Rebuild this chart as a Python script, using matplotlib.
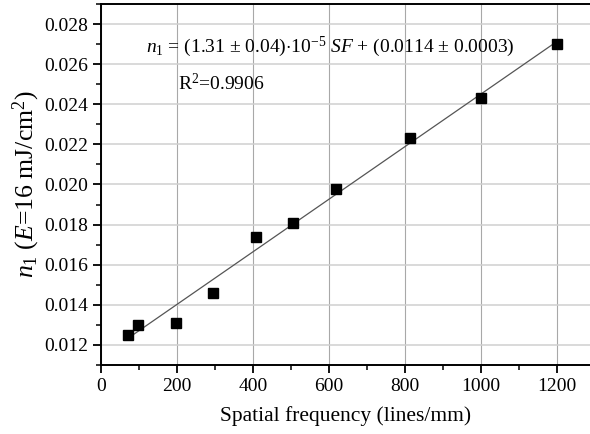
import numpy as np
import matplotlib.pyplot as plt
from matplotlib.ticker import MultipleLocator

plt.rcParams['font.family'] = 'Liberation Serif'
plt.rcParams['mathtext.fontset'] = 'custom'
plt.rcParams['mathtext.rm'] = 'Liberation Serif'
plt.rcParams['mathtext.it'] = 'Liberation Serif:italic'

# measured points
spatial_freq = [70, 97, 197, 295, 408, 505, 620, 813, 1000, 1200]
n1 = [0.0125, 0.0130, 0.0131, 0.0146, 0.0174, 0.0181, 0.0198, 0.0223, 0.0243, 0.0270]

# linear fit parameters
slope = 1.31e-5
intercept = 0.0114
fit_x = [75, 1200]

fig = plt.figure(figsize=(5.9, 4.34), dpi=100)
ax = fig.add_axes([0.1712, 0.159, 0.8288, 0.8318])

fx = np.array(fit_x)
ax.plot(fx, slope * fx + intercept, color='#555555', lw=0.9, zorder=2)
ax.plot(spatial_freq, n1, 's', color='black', ms=7, zorder=3)

ax.set_xlim(0, 1288)
ax.set_ylim(0.011, 0.029)
ax.xaxis.set_major_locator(MultipleLocator(200))
ax.xaxis.set_minor_locator(MultipleLocator(100))
ax.yaxis.set_major_locator(MultipleLocator(0.002))
ax.yaxis.set_minor_locator(MultipleLocator(0.001))
ax.yaxis.set_major_formatter(plt.FuncFormatter(lambda v, p: f"{v:.3f}"))
ax.tick_params(which='major', direction='out', length=6, width=1.3, labelsize=14)
ax.tick_params(which='minor', direction='out', length=3.5, width=1.1)
ax.grid(True, which='major', axis='y', color='#d0d0d0', lw=1.1)
ax.grid(True, which='major', axis='x', color='#a8a8a8', lw=0.8)
ax.set_axisbelow(True)
for s in ['left', 'bottom', 'top']:
    ax.spines[s].set_linewidth(1.4)
ax.spines['right'].set_visible(False)

ax.set_xlabel('Spatial frequency (lines/mm)', fontsize=15.5, labelpad=8)
ax.set_ylabel(r'$n_1$ ($E$=16 mJ/cm$^2$)', fontsize=18.5, labelpad=1)

ax.text(118, 0.02685, r'$n_1$ = (1.31 $\pm$ 0.04)$\cdot$10$^{-5}$ $SF$ + (0.0114 $\pm$ 0.0003)',
        fontsize=14, va='center', ha='left')
ax.text(203, 0.02506, r'R$^2$=0.9906', fontsize=14, va='center', ha='left')

fig.savefig('out.png', dpi=100)
